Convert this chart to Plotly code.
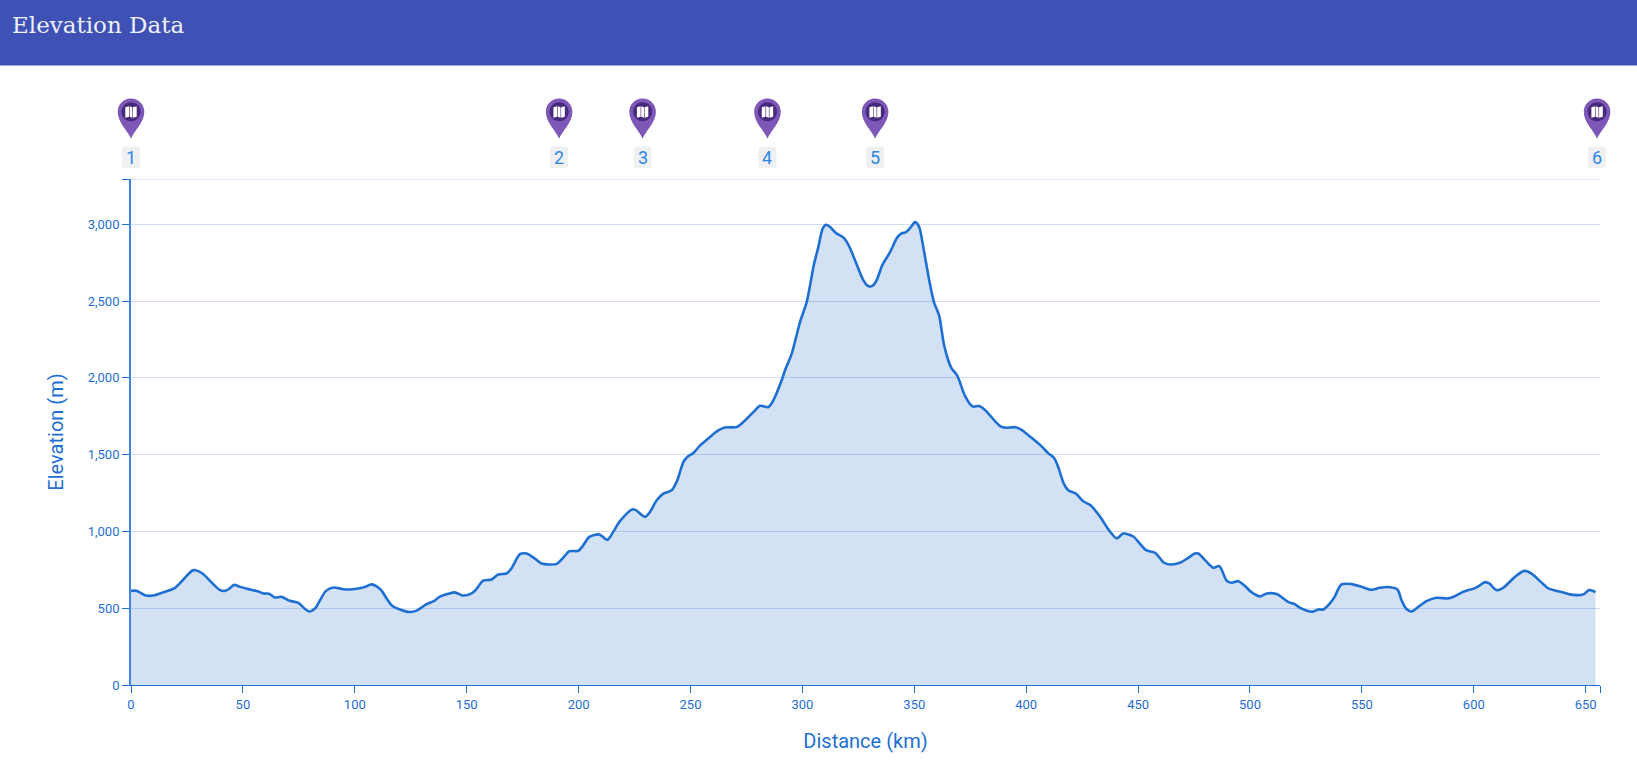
# Elevation profile with waypoint pins above the chart
import plotly.graph_objects as go

distance_km = [0, 2.5, 6.6, 10, 13.7, 19.7, 23.4, 27.9, 31.9, 35.7, 39.8, 42, 43.8, 46.2, 48.7, 53.2, 56.9, 59.1, 61.7,
               64.3, 67.3, 71, 74.8, 77.5, 79.7, 82.2, 84.5, 87.1, 90.4, 94.1, 97.1, 101.6, 104.6, 107.5, 111.5, 114.2,
               116.4, 120.2, 124.6, 127.6, 132.1, 135.1, 138, 141.8, 144.7, 148.2, 151.5, 153.7, 157.4, 161.1, 164.1,
               167.8, 170, 173.8, 176.8, 179.8, 183.5, 186.5, 190.2, 193.2, 195.8, 199.9, 202.1, 204.8, 209.3, 212.8,
               215.5, 218.2, 223.7, 225.2, 229.7, 231.9, 234.9, 237.9, 241.6, 244.1, 246.8, 248.6, 251.3, 254.3, 258.7,
               262.4, 265.4, 270.6, 273.6, 278.1, 281.1, 284.8, 287, 290.7, 292.2, 295.2, 298.9, 301.9, 303.4, 305.2,
               307.1, 309, 310.5, 312.3, 315, 318.6, 321, 324.2, 327.2, 329.4, 331.4, 333.2, 335.8, 339.1, 342.4, 344.3,
               346.1, 348.1, 350.3, 351.5, 352.5, 354.3, 357, 358.8, 361.1, 363.2, 365.2, 366.6, 369.2, 372.6, 376, 379,
               381.5, 384.5, 388.2, 390.9, 395, 397.9, 402.4, 406.9, 409.8, 412.4, 414.3, 416.8, 418.8, 422.2, 425.5,
               428.8, 433.3, 436.9, 440.5, 443.4, 447.9, 450.1, 453.6, 457.6, 461.6, 464.3, 468.7, 472, 475.4, 476.9,
               479.9, 483.6, 486.3, 489.6, 491.8, 494.8, 497.8, 500.8, 504.5, 507.5, 511.9, 517.2, 520.1, 523.1, 528,
               530.6, 532.8, 535.7, 537.8, 540.9, 545.4, 549.9, 554.3, 558, 562.5, 565.9, 567.7, 569.7, 572.2, 575.2,
               578.9, 583.4, 588.6, 591.6, 595.3, 600.5, 602.4, 605, 606.9, 610.2, 613.1, 618.4, 622.5, 625.8, 629.5,
               633.3, 637.7, 642.9, 646, 649, 651.5, 654.4]
elevation_m = [613, 613, 583, 583, 600, 633, 687, 748, 726, 672, 618, 613, 626, 652, 639, 622, 609, 596, 594,
               570, 574, 548, 535, 498, 479, 498, 553, 613, 635, 626, 622, 629, 639, 655, 622, 564,
               520, 492, 475, 484, 527, 544, 575, 594, 603, 583, 592, 614, 679, 687, 720,
               726, 759, 852, 856, 830, 791, 785, 789, 830, 871, 874, 910, 965, 980, 945,
               997, 1062, 1142, 1142, 1095, 1127, 1203, 1246, 1268, 1333, 1452, 1485, 1511, 1560, 1615,
               1658, 1677, 1680, 1712, 1777, 1818, 1810, 1853, 1983, 2048, 2156, 2362, 2492, 2600, 2741,
               2850, 2969, 2997, 2984, 2943, 2910, 2854, 2741, 2637, 2598, 2600, 2637, 2737, 2817, 2915, 2941,
               2947, 2975, 3014, 3001, 2969, 2828, 2611, 2492, 2405, 2221, 2113, 2063, 2015, 1885, 1814, 1816,
               1792, 1744, 1688, 1675, 1679, 1662, 1610, 1554, 1510, 1480, 1419, 1311, 1268, 1246, 1196,
               1170, 1090, 1010, 955, 986, 967, 932, 878, 861, 796, 785, 796, 824, 856, 856,
               813, 763, 774, 679, 666, 676, 644, 603, 577, 596, 592, 540, 525, 497, 477,
               492, 492, 531, 574, 655, 657, 639, 620, 633, 637, 622, 553, 498, 479, 509,
               546, 568, 564, 579, 607, 631, 646, 670, 661, 618, 633, 704, 743, 726, 678,
               629, 611, 590, 585, 590, 618, 606]

x_ticks = [0, 50, 100, 150, 200, 250, 300, 350, 400, 450, 500, 550, 600, 650]
y_ticks = [0, 500, 1000, 1500, 2000, 2500, 3000]
y_labels = ["0", "500", "1,000", "1,500", "2,000", "2,500", "3,000"]

waypoint_km = [0, 191.3, 228.6, 284.4, 332.5, 655.1]
waypoint_labels = ["1", "2", "3", "4", "5", "6"]

X_MAX = 656.4
Y_MAX = 3295
BLUE = "#1f6fd2"
GRID = "#cfdcf1"


def circle_path(cy, r):
    k = r * 0.5523
    return (f"M {-r},{cy} C {-r},{cy + k} {-k},{cy + r} 0,{cy + r} C {k},{cy + r} {r},{cy + k} {r},{cy} "
            f"C {r},{cy - k} {k},{cy - r} 0,{cy - r} C {-k},{cy - r} {-r},{cy - k} {-r},{cy} Z")


# pixel offsets above the top of the plot area
tip, cy, r = 40.2, 67.2, 13.3
k = r * 0.5523
pin_path = (f"M 0,{tip} C -3,{tip + 8} {-r},{cy - 11} {-r},{cy} C {-r},{cy + k} {-k},{cy + r} 0,{cy + r} "
            f"C {k},{cy + r} {r},{cy + k} {r},{cy} C {r},{cy - 11} 3,{tip + 8} 0,{tip} Z")
map_path = " ".join(
    f"M {x0},{cy + y0} L {x1},{cy + y1} L {x1},{cy + y1 - 10.5} L {x0},{cy + y0 - 10.5} Z"
    for x0, x1, y0, y1 in [(-5.7, -2.0, 4.6, 5.6), (-1.4, 1.4, 5.6, 4.6), (2.0, 5.7, 4.6, 5.6)]
)
box_path = ("M -6,10.8 L 6,10.8 C 8,10.8 9,11.8 9,13.8 L 9,29.5 C 9,31.5 8,32.5 6,32.5 L -6,32.5 "
            "C -8,32.5 -9,31.5 -9,29.5 L -9,13.8 C -9,11.8 -8,10.8 -6,10.8 Z")

fig = go.Figure()
fig.add_trace(go.Scatter(
    x=distance_km, y=elevation_m, mode="lines", fill="tozeroy",
    line=dict(color=BLUE, width=2.6, shape="spline", smoothing=0.8),
    fillcolor="rgba(31,111,200,0.2)", hoverinfo="skip", showlegend=False,
))

shapes = [dict(type="rect", xref="paper", yref="paper", x0=-0.2, x1=1.2, ysizemode="pixel", yanchor=1,
               y0=113.5, y1=180, fillcolor="#3f51b5", line_width=0),
          # plotly drops the gridline that sits on the axis end
          dict(type="line", xref="paper", yref="y", x0=0, x1=1, y0=Y_MAX, y1=Y_MAX,
               line=dict(color=GRID, width=1.3), layer="below")]
annotations = [dict(text="Elevation Data", xref="paper", yref="paper", x=0, y=1, xshift=-121, yshift=154.5,
                    xanchor="left", yanchor="middle", showarrow=False,
                    font=dict(family="DejaVu Serif", size=23, color="#eef0fa"))]

for km, label in zip(waypoint_km, waypoint_labels):
    for path, color in [(pin_path, "#7e57b8"), (circle_path(cy, 9.5), "#472a7c"),
                        (map_path, "#ffffff"), (box_path, "#eef0f2")]:
        shapes.append(dict(type="path", path=path, xref="paper", yref="paper",
                           xsizemode="pixel", ysizemode="pixel", xanchor=km / X_MAX, yanchor=1,
                           fillcolor=color, line_width=0))
    annotations.append(dict(text=label, xref="x", yref="paper", x=km, y=1, yshift=21.6, yanchor="middle",
                            showarrow=False, font=dict(family="Roboto", size=18, color="#2f86e6")))

fig.update_layout(
    width=1637, height=768, margin=dict(l=131, r=37, t=178.5, b=83),
    paper_bgcolor="white", plot_bgcolor="white", font=dict(family="Roboto", color=BLUE),
    shapes=shapes, annotations=annotations,
)
fig.update_xaxes(
    range=[0, X_MAX], tickvals=x_ticks + [X_MAX], ticktext=[str(t) for t in x_ticks] + [""],
    ticks="outside", ticklen=7, tickwidth=1.3, tickcolor=BLUE, tickfont=dict(size=13, color=BLUE),
    showline=True, linecolor=BLUE, linewidth=1.3, showgrid=False, zeroline=False,
    title=dict(text="Distance (km)", font=dict(size=20, color=BLUE), standoff=23),
)
fig.update_yaxes(
    range=[0, Y_MAX], tickvals=y_ticks + [Y_MAX], ticktext=y_labels + [""],
    ticks="outside", ticklen=7, tickwidth=1.3, tickcolor=BLUE, tickfont=dict(size=13, color=BLUE),
    showline=True, linecolor="#3f86e0", linewidth=1.8, showgrid=True, gridcolor=GRID, gridwidth=1.3, zeroline=False,
    title=dict(text="Elevation (m)", font=dict(size=20, color=BLUE), standoff=19),
)

fig.write_html("out.html", config=dict(displayModeBar=False), post_script="document.body.style.margin='0';")
